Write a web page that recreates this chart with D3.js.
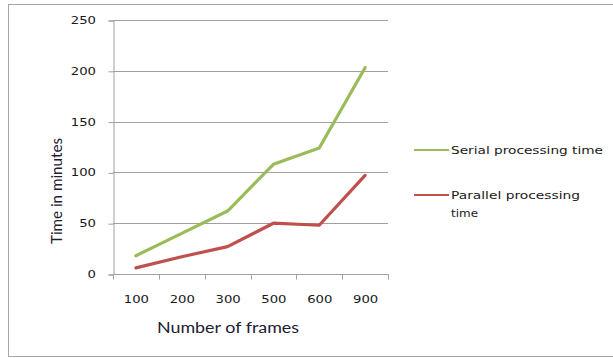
<!DOCTYPE html>
<html>
<head>
<meta charset="utf-8">
<script src="https://cdn.jsdelivr.net/npm/d3@7"></script>
<style>
  html, body { margin: 0; padding: 0; background: #fff; }
  svg { display: block; }
</style>
</head>
<body>
<svg id="chart" width="613" height="358"></svg>
<script>
// Frame counts on the category axis
const frames = ["100", "200", "300", "500", "600", "900"];
// Processing times in minutes
const serialTime = [18, 40, 62, 108, 124, 203];
const parallelTime = [6, 17, 27, 50, 48, 97];
const yTicks = [0, 50, 100, 150, 200, 250];
const seriesNames = ["Serial processing time", "Parallel processing time"];
const seriesColors = ["#9bbb59", "#c0504d"];

const svg = d3.select("#chart");
const W = 613, H = 358;
const plot = { left: 113, right: 388, top: 20, bottom: 274 };
const tickFont = "DejaVu Sans, Verdana, sans-serif";
const titleFont = "Lato, Calibri, sans-serif";
const wide = 1.2; // horizontal stretch applied to the small labels

// Outer chart border
svg.append("rect")
  .attr("x", 8.5).attr("y", 4.5)
  .attr("width", W + 10).attr("height", 352)
  .attr("fill", "#fff").attr("stroke", "#a6a6a6").attr("stroke-width", 1);

const x = d3.scaleBand().domain(frames).range([plot.left, plot.right]);
const y = d3.scaleLinear().domain([0, 250]).range([plot.bottom, plot.top]);

// Horizontal gridlines
svg.append("g")
  .selectAll("line")
  .data(yTicks.filter(d => d > 0))
  .join("line")
  .attr("x1", plot.left).attr("x2", plot.right)
  .attr("y1", d => Math.round(y(d)) + 0.5).attr("y2", d => Math.round(y(d)) + 0.5)
  .attr("stroke", "#a0a0a0").attr("stroke-width", 1);

// Y axis
const yAxis = svg.append("g")
  .attr("transform", `translate(${plot.left + 0.5},0.5)`)
  .call(d3.axisLeft(y).tickValues(yTicks).tickSize(5).tickFormat(() => ""));
yAxis.select(".domain").attr("stroke", "#a0a0a0");
yAxis.selectAll(".tick line").attr("stroke", "#a0a0a0");
svg.append("g").selectAll("text")
  .data(yTicks)
  .join("text")
  .attr("transform", d => `translate(96,${y(d) + 4}) scale(${wide},1)`)
  .attr("text-anchor", "end")
  .attr("font-family", tickFont)
  .attr("font-size", 11).attr("fill", "#1a1a1a")
  .text(d => d);

// X axis with ticks at category boundaries
const xAxisG = svg.append("g").attr("transform", `translate(0.5,${plot.bottom + 0.5})`);
xAxisG.append("line")
  .attr("x1", plot.left).attr("x2", plot.right)
  .attr("stroke", "#a0a0a0");
const boundaries = frames.map(f => x(f)).concat([x(frames[frames.length - 1]) + x.bandwidth()]);
xAxisG.selectAll("line.tick")
  .data(boundaries)
  .join("line").attr("class", "tick")
  .attr("x1", d => Math.round(d)).attr("x2", d => Math.round(d))
  .attr("y1", 0).attr("y2", 5)
  .attr("stroke", "#a0a0a0");
xAxisG.selectAll("text")
  .data(frames)
  .join("text")
  .attr("transform", d => `translate(${x(d) + x.bandwidth() / 2},28) scale(${wide},1)`)
  .attr("text-anchor", "middle")
  .attr("font-family", tickFont)
  .attr("font-size", 11).attr("fill", "#1a1a1a")
  .text(d => d);

// Axis titles
svg.append("text")
  .attr("transform", `translate(62,191) rotate(-90)`)
  .attr("text-anchor", "middle")
  .attr("font-family", titleFont)
  .attr("font-size", 15).attr("fill", "#1c2030")
  .attr("textLength", 106).attr("lengthAdjust", "spacingAndGlyphs")
  .text("Time in minutes");
svg.append("text")
  .attr("x", 228).attr("y", 333)
  .attr("text-anchor", "middle")
  .attr("font-family", titleFont)
  .attr("font-size", 14.5).attr("fill", "#1c2030")
  .attr("textLength", 142).attr("lengthAdjust", "spacingAndGlyphs")
  .text("Number of frames");

// Series lines
const line = d3.line()
  .x((d, i) => x(frames[i]) + x.bandwidth() / 2)
  .y(d => y(d));
[serialTime, parallelTime].forEach((vals, i) => {
  svg.append("path")
    .datum(vals)
    .attr("d", line)
    .attr("fill", "none")
    .attr("stroke", seriesColors[i])
    .attr("stroke-width", 3.2)
    .attr("stroke-linejoin", "round")
    .attr("stroke-linecap", "round");
});

// Legend
const legend = svg.append("g").attr("font-family", tickFont)
  .attr("font-size", 11).attr("fill", "#1a1a1a");
const legendRows = [
  { y: 150, lines: [["Serial processing time", 152]] },
  { y: 195, lines: [["Parallel processing", 129], ["time", 27]] }
];
legendRows.forEach((row, i) => {
  legend.append("line")
    .attr("x1", 414).attr("x2", 449)
    .attr("y1", row.y).attr("y2", row.y)
    .attr("stroke", seriesColors[i]).attr("stroke-width", 2);
  row.lines.forEach(([t, len], j) => {
    legend.append("text")
      .attr("x", 451).attr("y", row.y + 4 + j * 18)
      .attr("textLength", len).attr("lengthAdjust", "spacingAndGlyphs")
      .text(t);
  });
});
</script>
</body>
</html>
